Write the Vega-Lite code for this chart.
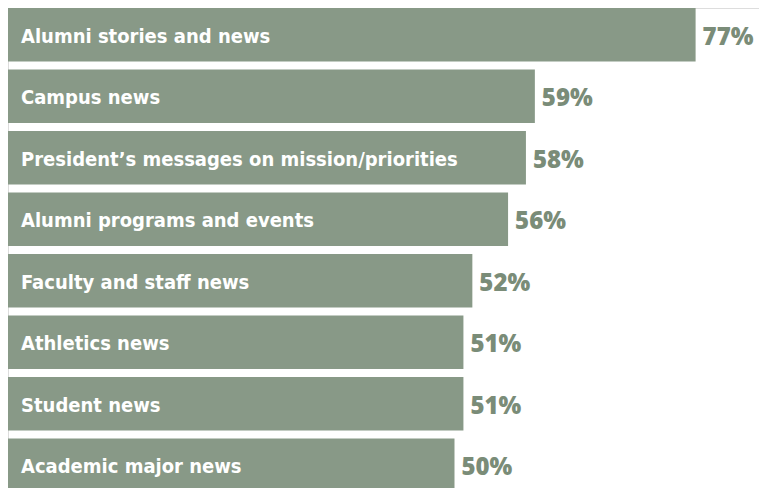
{
  "$schema": "https://vega.github.io/schema/vega-lite/v6.json",
  "autosize": "none",
  "padding": {"left": 8, "top": 8, "right": 0, "bottom": 0},
  "width": 751,
  "height": 480,
  "background": "white",
  "data": {"values": [
    {"topic": "Alumni stories and news", "pct": 77, "label": "77%"},
    {"topic": "Campus news", "pct": 59, "label": "59%"},
    {"topic": "President’s messages on mission/priorities", "pct": 58, "label": "58%"},
    {"topic": "Alumni programs and events", "pct": 56, "label": "56%"},
    {"topic": "Faculty and staff news", "pct": 52, "label": "52%"},
    {"topic": "Athletics news", "pct": 51, "label": "51%"},
    {"topic": "Student news", "pct": 51, "label": "51%"},
    {"topic": "Academic major news", "pct": 50, "label": "50%"}
  ]},
  "encoding": {
    "y": {"field": "topic", "type": "nominal", "sort": null, "axis": null,
          "scale": {"paddingInner": 0.13, "paddingOuter": 0, "range": [0, 484]}}
  },
  "layer": [
    {"mark": {"type": "bar", "color": "#889987"},
     "encoding": {"x": {"field": "pct", "type": "quantitative", "axis": null, "scale": {"domain": [0, 84.1], "nice": false, "zero": true}}}},
    {"mark": {"type": "text", "align": "left", "baseline": "middle", "dx": 13, "dy": 2, "color": "white",
              "font": "DejaVu Sans Condensed", "fontWeight": "bold", "fontSize": 20},
     "encoding": {"x": {"datum": 0, "type": "quantitative"}, "text": {"field": "topic"}}},
    {"mark": {"type": "text", "align": "left", "baseline": "middle", "dx": 7, "dy": 3, "color": "#7a8c78",
              "font": "Open Sans", "fontWeight": 800, "fontSize": 24},
     "encoding": {"x": {"field": "pct", "type": "quantitative"}, "text": {"field": "label"}}}
  ]
}
